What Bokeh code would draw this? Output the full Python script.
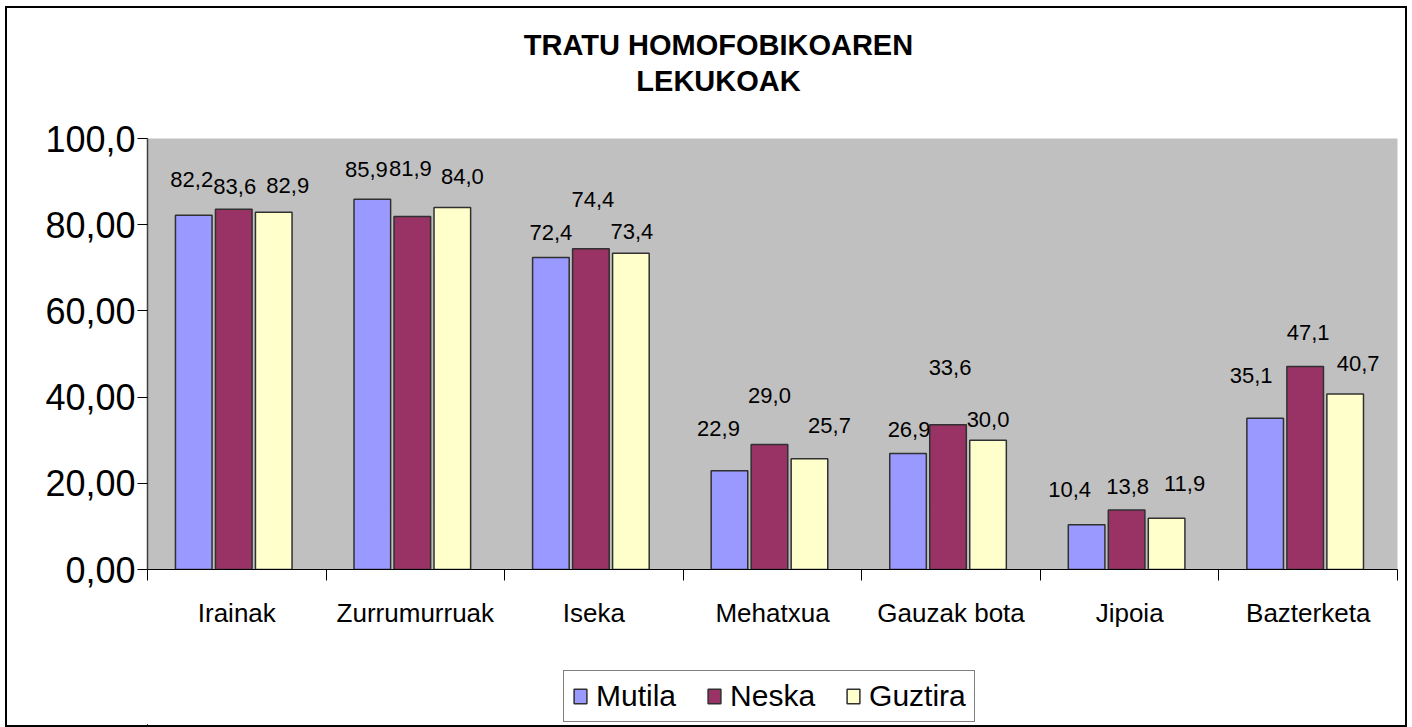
from bokeh.plotting import figure
from bokeh.layouts import column
from bokeh.models import ColumnDataSource, FixedTicker, Label, Legend, LegendItem, Range1d
from bokeh.core.properties import value
from bokeh.embed import file_html
from bokeh.resources import INLINE

# ---- data ----
categories = ["Irainak", "Zurrumurruak", "Iseka", "Mehatxua", "Gauzak bota", "Jipoia", "Bazterketa"]
series_names = ["Mutila", "Neska", "Guztira"]
mutila = [82.2, 85.9, 72.4, 22.9, 26.9, 10.4, 35.1]
neska = [83.6, 81.9, 74.4, 29.0, 33.6, 13.8, 47.1]
guztira = [82.9, 84.0, 73.4, 25.7, 30.0, 11.9, 40.7]
y_ticks = [0, 20, 40, 60, 80, 100]
y_tick_labels = ["0,00", "20,00", "40,00", "60,00", "80,00", "100,0"]
title_lines = ["TRATU HOMOFOBIKOAREN", "LEKUKOAK"]

# ---- layout / style (label nudges in screen px, as placed in the reference) ----
colors = ["#9999FF", "#993366", "#FFFFCC"]
dodges = [-0.241, -0.017, 0.207]
bar_w = 0.205
label_dx = [
    [-2, -6, 0, -11, 1, -17, -14],
    [1, -2, 2, 0, 2, 1, 3],
    [14, 10, 1, 20, 0, 18, 13],
]
label_dy = [
    [36, 30, 25, 42, 24, 35, 43],
    [23, 48, 49, 49, 57, 24, 34],
    [27, 31, 22, 33, 21, 35, 31],
]
FONT = "Liberation Sans"
W = 1398

n = len(categories)
centers = [i + 0.5 for i in range(n)]

# ---------- title strip (frames are aligned with the main chart's frame) ----------
pt = figure(width=W, height=100, x_range=Range1d(0, 1), y_range=Range1d(0, 1),
            x_axis_type=None, y_axis_type=None, title=None,
            output_backend="svg", toolbar_location=None,
            min_border=0, outline_line_color=None, border_fill_color="white",
            background_fill_color="white")
pt.grid.visible = False
for line, yy in zip(title_lines, [63.5, 27.5]):
    pt.add_layout(Label(x=571, y=yy, x_units="screen", y_units="screen", text=line,
                        text_font=FONT, text_font_size="29px", text_font_style="bold",
                        text_align="center", text_baseline="middle", text_color="black"))

# ---------- main chart ----------
p = figure(
    width=W, height=552, title=None,
    x_range=Range1d(0, n), y_range=Range1d(0, 100),
    output_backend="svg", toolbar_location=None,
    min_border_left=140, min_border_right=8, min_border_top=30, min_border_bottom=91,
    background_fill_color="#C0C0C0", border_fill_color="white",
    outline_line_color=None,
)
p.grid.visible = False

sources = []
for k, (name, vals) in enumerate(zip(series_names, [mutila, neska, guztira])):
    xs = [c + dodges[k] for c in centers]
    src = ColumnDataSource(dict(
        x=xs, top=vals,
        txt=[f"{v:.1f}".replace(".", ",") for v in vals],
        dx=label_dx[k], dy=[-d for d in label_dy[k]],
    ))
    sources.append(src)
    p.vbar(x="x", top="top", bottom=0, width=bar_w, source=src,
           fill_color=colors[k], line_color="#303030", line_width=1.5)
    p.text(x="x", y="top", text="txt", x_offset="dx", y_offset="dy", source=src,
           text_font=value(FONT), text_font_size="22px", text_color="black",
           text_align="center", text_baseline="middle")

xa = p.xaxis[0]
xa.ticker = FixedTicker(ticks=centers, minor_ticks=list(range(n + 1)))
xa.major_label_overrides = {c: cat for c, cat in zip(centers, categories)}
xa.major_tick_line_color = None
xa.major_tick_out = 0
xa.major_tick_in = 0
xa.minor_tick_in = 0
xa.minor_tick_out = 11
xa.minor_tick_line_color = "black"
xa.axis_line_color = "black"
xa.axis_line_width = 1
xa.major_label_standoff = 17
xa.major_label_text_font = FONT
xa.major_label_text_font_size = "26px"
xa.major_label_text_color = "black"

ya = p.yaxis[0]
ya.ticker = FixedTicker(ticks=y_ticks)
ya.major_label_overrides = {t: s for t, s in zip(y_ticks, y_tick_labels)}
ya.major_tick_in = 0
ya.major_tick_out = 10
ya.major_tick_line_color = "black"
ya.minor_tick_line_color = None
ya.axis_line_color = "#404040"
ya.axis_line_width = 1.5
ya.major_label_standoff = 2
ya.major_label_text_font = FONT
ya.major_label_text_font_size = "36px"
ya.major_label_text_color = "black"

# ---------- legend strip (its ranges lie far from the data: renderers only feed the legend) ----------
pl = figure(width=W, height=65, x_range=Range1d(100, 110), y_range=Range1d(100, 110),
            x_axis_type=None, y_axis_type=None, title=None,
            output_backend="svg", toolbar_location=None,
            min_border=0, outline_line_color=None, border_fill_color="white",
            background_fill_color="white")
pl.grid.visible = False
items = []
for k, name in enumerate(series_names):
    r = pl.vbar(x="x", top="top", bottom=0, width=bar_w, source=sources[k],
                fill_color=colors[k], line_color="#303030", line_width=1.5)
    items.append(LegendItem(label=name, renderers=[r]))
legend = Legend(
    items=items, orientation="horizontal", location=(416, 3),
    border_line_color="black", border_line_width=1,
    background_fill_color="white", background_fill_alpha=1,
    label_text_font=FONT, label_text_font_size="30px", label_text_color="black",
    glyph_width=16, glyph_height=18, label_standoff=8, spacing=30,
    padding=8, margin=0,
)
pl.add_layout(legend)

layout = column(pt, p, pl, spacing=0,
                styles={"border": "2px solid #000000", "margin-left": "5px", "margin-top": "6px"})

open("out.html", "w").write(file_html(layout, INLINE))
